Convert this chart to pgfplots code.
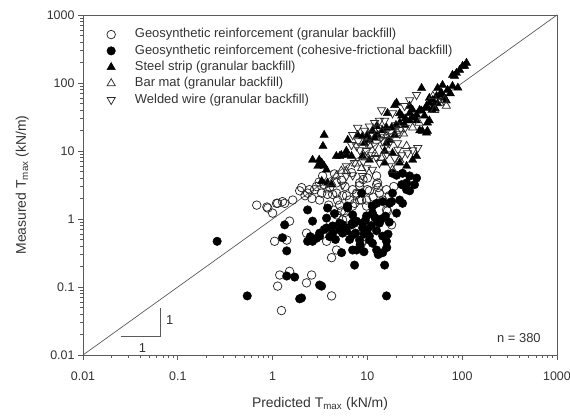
\documentclass[border=0pt]{standalone}
\usepackage{fontspec}
\setmainfont{Liberation Sans}
\usepackage{pgfplots}
\pgfplotsset{compat=1.18}
\definecolor{axisgray}{HTML}{5A5A5A}
\definecolor{txtgray}{HTML}{333333}
\definecolor{markgray}{HTML}{2A2A2A}

\begin{document}
\begin{tikzpicture}
\path[use as bounding box] (-83bp,-61bp) rectangle (487bp,355bp);
\begin{axis}[
  scale only axis,
  width=474bp, height=340bp,
  xmode=log, ymode=log,
  xmin=0.01, xmax=1000, ymin=0.01, ymax=1000,
  axis line style={axisgray, line width=0.8pt},
  every tick/.style={axisgray, line width=0.7pt},
  tick align=outside,
  xtick pos=bottom, ytick pos=left,
  major tick length=5bp, minor tick length=3bp,
  xtick={0.01,0.1,1,10,100,1000},
  xticklabels={0.01,0.1,1,10,100,1000},
  ytick={0.01,0.1,1,10,100,1000},
  yticklabels={0.01,0.1,1,10,100,1000},
  tick label style={font=\fontsize{12.5}{14}\selectfont, text=txtgray},
  xticklabel style={yshift=-8bp},
  xlabel={Predicted T\textsubscript{max} (kN/m)},
  ylabel={Measured T\textsubscript{max} (kN/m)},
  label style={font=\fontsize{14}{16}\selectfont, text=txtgray},
  xlabel style={at={(axis description cs:0.5,-0.144)}, anchor=center},
  ylabel style={at={(axis description cs:-0.128,0.5)}, anchor=center},
  legend cell align=left,
  legend style={draw=none, fill=none, inner sep=0pt,
    at={(axis description cs:0.05,0.967)}, anchor=north west,
    font=\fontsize{13}{15}\selectfont, text=txtgray,
    column sep=18bp,
    nodes={inner sep=1.5bp, text height=10bp, text depth=3.3bp}},
  clip=false,
]

% Geosynthetic reinforcement, granular backfill
\addplot[only marks, mark=o, mark size=4.3pt, draw=markgray, fill=white, line width=0.75pt]
 coordinates {
 (0.68,1.6) (0.87,1.5) (0.89,1.45) (1.0,1.22) (1.1,1.7) (1.13,1.7) (1.27,1.8)
 (1.34,1.7) (1.63,1.9) (1.93,2.6) (2.02,2.9) (2.34,2.4) (2.45,2.7) (2.77,2.7)
 (3.37,4.3) (3.29,2.4) (3.8,2.3) (4.0,2.9) (4.73,2.4) (4.73,3.4) (5.34,3.7)
 (4.85,1.9) (2.28,0.62) (1.05,0.47) (1.41,0.49) (1.51,0.93) (3.71,0.47)
 (4.73,0.35) (4.19,0.27) (1.19,0.15) (1.51,0.17) (1.13,0.103) (2.28,0.115)
 (2.58,0.15) (4.19,0.074) (1.24,0.045) (6.98,1.55) (7.69,2.4) (5.47,0.97)
 (18,0.82) (16.3,1.31) (8.68,0.44) (4.3,2.3) (5.47,2.2) (6.98,2.7) (8.27,3.4)
 (10,4.0) (12.8,3.4) (13.4,2.4) (10.5,2.6) (8.68,1.9) (3.13,1.9) (5.34,1.31)
 (7.32,1.7) (9.8,1.55) (6.03,1.03) (12.5,3.2) (10,2.7) (8.27,3.1) (9.8,1.9)
 (15.9,1.36) (11.3,1.55) (6.03,2.2) (5.09,1.6) (4.73,1.15) (12.5,4.3)
 (15.9,2.7) (7.69,2.3) (8.27,1.9) (14.5,1.9) (2.9,3.0) (3.5,3.2) (2.6,2.0)
 (3.9,1.6) (4.4,1.35) (5.8,1.25) (6.5,1.9) (2.2,2.2) (3.1,3.5) (4.5,4.6)
 (5.8,3.0) (9,3.8) (11.5,2.1) (13,2.9) (17,2.2) (19,3.0) (6.8,4.8)
 };
\addlegendentry{Geosynthetic reinforcement (granular backfill)}

% Geosynthetic reinforcement, cohesive-frictional backfill
\addplot[only marks, mark=*, mark size=4.3pt, draw=black, fill=black]
 coordinates {
 (0.26,0.47) (0.54,0.074) (1.93,0.067) (3.29,0.103) (1.41,0.145) (1.71,0.14)
 (1.41,0.34) (1.27,0.53) (1.34,0.82) (2.34,1.36) (2.64,0.93) (2.34,0.47)
 (2.64,0.47) (3.13,0.62) (3.71,0.74) (4.3,0.79) (5.09,0.69) (6.03,0.67)
 (5.34,0.32) (7.32,0.21) (6.98,0.87) (6.18,1.45) (3.8,1.45) (7.69,0.35)
 (33,4.0) (25.9,3.4) (27.9,2.6) (20.3,4.4) (18.4,2.4) (21.9,1.9) (23.5,1.7)
 (20.3,1.22) (12.8,0.93) (9.8,1.11) (8.9,0.74) (10.5,0.49) (12.5,0.35)
 (14.5,0.32) (15.2,0.21) (11.3,0.44) (15.9,0.074) (6.98,0.35) (3.13,0.56)
 (4.3,0.62) (5.47,0.62) (6.81,0.82) (7.69,0.93) (3.71,1.03) (5.09,0.87)
 (6.18,1.55) (8.68,2.4) (11.3,1.55) (14.5,1.8) (18,1.8) (3.13,0.107)
 (2.02,0.069) (23.5,4.7) (27.9,4.3) (23,3.2) (25.9,2.7) (31.4,3.2) (18.4,4.7)
 (17.1,1.7) (12.5,1.7) (7.32,0.87) (8.9,0.87) (11.3,1.22) (13.4,0.87)
 (12.5,0.67) (10.5,0.56) (14.5,0.56) (15.9,0.47) (8.27,0.49) (6.98,0.58)
 (5.47,0.82) (3.5,0.7) (4.0,0.55) (4.6,0.5) (5.8,0.75) (6.5,0.5) (7.5,0.62)
 (9.2,0.6) (9.5,0.95) (11,0.8) (14,1.0) (15.5,1.1) (16.5,0.6) (17,0.9)
 (12,1.05) (10,0.7) (2.9,0.52) (2.5,0.55) (8.4,0.42) (9.2,0.33) (13,0.3)
 (16,0.38) (7,1.15) (4.5,1.2)
 };
\addlegendentry{Geosynthetic reinforcement (cohesive-frictional backfill)}

% Steel strip, granular backfill
\addplot[only marks, mark=triangle*, mark size=4.8pt, draw=black, fill=black]
 coordinates {
 (111,197) (101,178) (94,155) (87,140) (79,131) (106,178) (83,127) (79,90)
 (37.3,84) (62,93) (70,79) (58,67) (60.7,71) (53.7,64) (49,56) (45,51)
 (42,43) (42,46) (37.3,39) (33,34) (30,31) (20.3,51) (27.9,36) (21.9,36)
 (45,28) (43,19.7) (38,19.7) (24.7,24) (15.9,22) (12.5,23) (11.3,19.7)
 (10,17.2) (8.9,16.6) (7.9,17.2) (6.2,14.5) (6.0,10) (5.3,8.7) (4.7,8.4)
 (15.9,13.1) (3.5,17.2) (3.4,11.8) (3.3,6.7) (3.5,6.0) (3.7,5.3) (3.1,7.4)
 (15.2,10) (18.4,9.3) (21.9,6.7) (25.9,6.0) (30,7.4) (33,8.4) (15.2,6.7)
 (10.5,7.4) (8.9,8.4) (6.8,8.4) (3.3,3.6) (3.8,3.4) (2.64,7.4) (3.37,6.2)
 (3.0,6.0) (5.1,8.4) (6.0,8.7) (4.19,3.2) (55,84) (45,60) (35.6,40) (27.9,46)
 (30,40) (19.4,47) (16.3,36) (23,33) (25.9,28) (43,26) (35.6,20) (42,18.5)
 (14.5,20) (12.8,17.2) (11.9,15.5) (10.5,14.5) (9.3,13.1) (17.1,14.5)
 (19.4,17.2) (50,45) (55,50) (65,60) (75,70) (28,28) (25,30) (22,26) (20,24)
 (18,22) (33,28) (40,33) (48,40) (52,42) (68,55) (90,85)
 };
\addlegendentry{Steel strip (granular backfill)}

% Bar mat, granular backfill
\addplot[only marks, mark=triangle, mark size=4.8pt, draw=markgray, fill=white, line width=0.75pt]
 coordinates {
 (68,46) (65,56) (51,40) (8.7,5.6) (5.3,5.1) (4.7,4.3) (4.2,3.4) (3.8,2.7)
 (18.4,5.3) (21.9,7.4) (25.9,11.8) (10.5,12.3) (15.9,17.2) (20.3,19.7)
 (49,64) (58,51) (6,5) (12,9) (14,8) (30,22) (24,18) (9.5,8) (7.5,6.5)
 (35,26)
 };
\addlegendentry{Bar mat (granular backfill)}

% Welded wire, granular backfill
\addplot[only marks, mark=triangle, mark options={rotate=180}, mark size=4.8pt, draw=markgray, fill=white, line width=0.75pt]
 coordinates {
 (30,10.3) (34,11.1) (26.5,9.3) (23,8.7) (19.4,7.9) (18,16.6) (15.2,28)
 (13.4,28) (11.9,26) (10.5,23) (9.3,20) (7.9,22) (7.0,17.2) (6.8,12.3)
 (7.7,11.8) (8.3,10.3) (9.8,10) (11.1,8.7) (12.5,7.9) (13.4,6.7) (18,6.0)
 (11.3,5.3) (9.8,5.6) (7.3,6.7) (6.0,6.0) (6.0,4.3) (5.5,3.2) (7.0,4.4)
 (8.9,4.3) (14.1,40) (18.4,36) (24.7,46) (27.9,56) (33,67) (14.5,14)
 (20.8,13.1) (12,12) (14,16) (16,20) (20,24) (22,18) (25,22) (15,11)
 (17,13) (11,18) (13,22) (8,14) (9,7) (16,9) (21,10.5) (10,13.5)
 };
\addlegendentry{Welded wire (granular backfill)}

% 1:1 line
\addplot[axisgray, line width=0.7pt, forget plot] coordinates {(0.01,0.01) (1000,1000)};

% slope indicator
\addplot[axisgray, line width=0.7pt, forget plot] coordinates {(0.025,0.019) (0.065,0.019) (0.065,0.049)};
\node[font=\fontsize{13}{15}\selectfont, text=txtgray] at (axis cs:0.0425,0.0127) {1};
\node[font=\fontsize{13}{15}\selectfont, text=txtgray] at (axis cs:0.082,0.033) {1};

\node[font=\fontsize{13}{15}\selectfont, text=txtgray, anchor=east] at (axis description cs:0.973,0.05) {n = 380};
\end{axis}
\end{tikzpicture}
\end{document}
